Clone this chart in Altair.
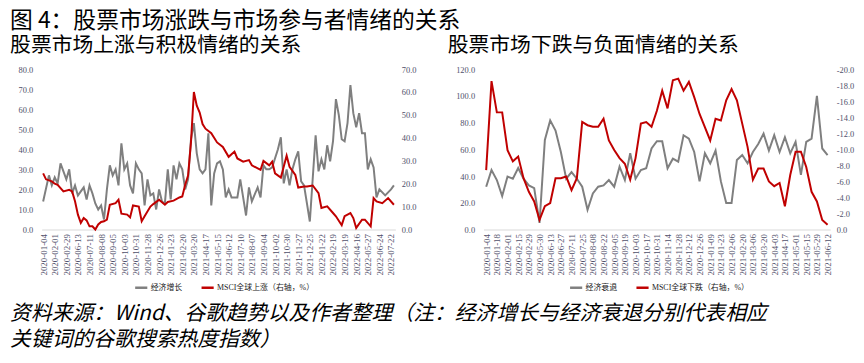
import json
import altair as alt
import pandas as pd

GRAY = "#7F7F7F"
RED = "#C00000"
AXIS_C = "#4F4F6A"
NUM_FONT = "Liberation Serif, Noto Sans CJK SC"
CJK_FONT = "Noto Sans CJK SC"

# ---------------- left panel: rise vs positive sentiment ----------------
up_labels = ["2020-01-04", "2020-02-01", "2020-02-29", "2020-06-13", "2020-07-11",
             "2020-08-08", "2020-09-05", "2020-10-03", "2020-10-31", "2020-11-28",
             "2020-12-26", "2021-01-23", "2021-02-20", "2021-03-20", "2021-04-17",
             "2021-05-15", "2021-06-12", "2021-07-10", "2021-08-07", "2021-09-04",
             "2021-10-02", "2021-10-30", "2021-11-27", "2021-12-25", "2022-01-22",
             "2022-02-19", "2022-03-19", "2022-04-16", "2022-05-27", "2022-06-24",
             "2022-07-22"]
up_label_step = 4
up_n_weeks = 122

growth_week = [0, 2, 3, 4, 5, 6, 8, 9, 10, 11, 12, 14, 15, 16, 17, 18, 19, 20, 21, 22,
               23, 24, 25, 26, 27, 28, 29, 30, 31, 32, 33, 34, 35, 36, 37, 38, 39, 40,
               41, 42, 43, 44, 45, 46, 47, 48, 49, 50, 51, 52, 53, 54, 55, 56, 57, 58,
               59, 60, 61, 62, 63, 64, 65, 66, 67, 68, 69, 70, 71, 72, 74, 75, 76, 77,
               78, 79, 81, 82, 83, 84, 85, 86, 87, 88, 89, 90, 91, 92, 94, 95, 96, 97,
               98, 99, 100, 101, 102, 103, 104, 105, 106, 107, 108, 109, 110, 111, 112,
               113, 114, 115, 116, 118, 120, 121]
growth_val = [14, 27, 22, 26, 23, 33, 25, 30, 18, 22, 17, 21, 15, 22, 18, 13, 10, 12, 5, 20,
              32, 27, 30, 22, 43, 30, 33, 22, 18, 33, 30, 28, 12, 25, 17, 18, 10, 20,
              14, 13, 30, 15, 32, 25, 33, 30, 20, 25, 45, 53, 38, 30, 28, 30, 48, 12,
              28, 33, 34, 30, 16, 20, 16, 16, 16, 25, 16, 7, 21, 14, 21, 16, 32, 30,
              30, 31, 40, 46, 23, 30, 22, 30, 35, 39, 24, 22, 13, 4, 47, 29, 35, 30,
              42, 34, 44, 65, 57, 45, 44, 53, 72, 58, 51, 58, 48, 48, 30,
              35, 31, 16, 20, 17, 20, 22]

msci_up_week = [0, 1, 3, 4, 5, 7, 9, 10, 11, 12, 13, 14, 15, 16, 17, 18, 19, 20, 21, 22,
                23, 25, 26, 27, 29, 30, 31, 33, 34, 35, 37, 38, 40, 42, 43, 45, 47, 48,
                49, 50, 51, 52, 53, 54, 55, 56, 58, 60, 62, 64, 66, 67, 69, 71, 72, 75,
                76, 78, 79, 80, 82, 84, 85, 87, 88, 90, 91, 93, 95, 96, 98, 100, 101,
                103, 104, 106, 107, 108, 110, 111, 113, 114, 115, 117, 119, 121]
msci_up_val = [24.5, 21.9, 21, 20, 19.5, 16.6, 17.3, 16.6, 12.3, 6.5, 2.9, 5, 4, 1.4, 1.4,
               0, 2.2, 3.3, 3.6, 4.3, 10.8, 11.5, 13, 6.9, 6.5, 5.3, 10.5, 10, 3.6, 5.8,
               10, 11.1, 13, 10.8, 12, 12.6, 14, 14.4, 19.5, 23.5, 38, 60, 54, 51, 46,
               44, 42, 38, 36, 31.7, 34, 31, 29.6, 30.3, 28, 26, 29.9, 28, 29.6, 24.5,
               22.7, 32.2, 27.4, 23.8, 18.3, 18.8, 18.8, 19.2, 15.9, 9.4, 10.1, 7.2,
               5.8, 1.9, 5.8, 7.2, 5, 0.7, 4.3, 4.3, 1.4, 13.7, 12.3, 11.5, 13.7, 10.8]

# ---------------- right panel: fall vs negative sentiment ----------------
down_labels = ["2020-01-04", "2020-01-18", "2020-02-01", "2020-02-15", "2020-02-29",
               "2020-05-30", "2020-06-13", "2020-06-27", "2020-07-11", "2020-07-25",
               "2020-08-08", "2020-08-22", "2020-09-05", "2020-09-19", "2020-10-03",
               "2020-10-17", "2020-10-31", "2020-11-14", "2020-11-28", "2020-12-12",
               "2020-12-26", "2021-01-09", "2021-01-23", "2021-02-06", "2021-02-20",
               "2021-03-06", "2021-03-20", "2021-04-03", "2021-04-17", "2021-05-01",
               "2021-05-15", "2021-05-29", "2021-06-12"]
down_label_step = 2
down_n_weeks = 65

recession_week = list(range(65))
recession_val = [32, 44.5, 37, 25, 39.6, 38, 46, 38, 33, 31, 5, 67, 81.6, 74, 58, 38, 43,
                 38, 32, 14.8, 27, 32, 33, 37, 32, 47, 37, 57, 38, 44.5, 45.8, 60.6, 66,
                 66, 45.8, 53, 50.7, 70.5, 68, 58, 36, 57, 49.5, 59, 36, 19.8, 19.8, 52,
                 55.7, 49.5, 58, 64, 71.7, 59, 70.5, 58, 69, 57, 65.6, 40.8, 65.6, 68,
                 100, 60.6, 55.7]

msci_down_week = [0, 1, 2, 3, 4, 5, 6, 7, 8, 9, 10, 11, 12, 13, 14, 15, 16, 17, 18, 19,
                  20, 21, 22, 23, 24, 25, 26, 27, 28, 29, 30, 31, 32, 33, 34, 35, 36, 37,
                  38, 39, 40, 42, 43, 44, 45, 46, 47, 48, 49, 50, 51, 52, 53, 54, 55, 56,
                  57, 58, 59, 60, 61, 62, 63, 64]
msci_down_val = [-7.4, -18.5, -14.6, -14.6, -9.9, -8.5, -9.1, -6.4, -4.7, -3.5, -1.2,
                 -2.9, -3.3, -6.4, -6.4, -6.6, -4.9, -6.4, -13.4, -13, -12.8, -12.8,
                 -13.8, -11.1, -9.9, -8.9, -8.2, -6.2, -8.9, -13.2, -13.4, -12.8, -14.8,
                 -17.3, -15.1, -18.6, -18.8, -17.3, -18.4, -16.5, -14.4, -11.1, -13.8,
                 -13.6, -16.1, -17.5, -16.1, -13.2, -10.3, -6.2, -7.6, -7.6, -6, -5.4,
                 -5.8, -2.9, -6.8, -9.7, -9.7, -7.8, -4.7, -3.5, -1.2, -0.6]

S_GROWTH = "经济增长"
S_UP = "MSCI全球上涨（右轴，%）"
S_REC = "经济衰退"
S_DOWN = "MSCI全球下跌（右轴，%）"

main_title = "图 4：股票市场涨跌与市场参与者情绪的关系"
sub_left = "股票市场上涨与积极情绪的关系"
sub_right = "股票市场下跌与负面情绪的关系"
note_lines = ["资料来源：Wind、谷歌趋势以及作者整理（注：经济增长与经济衰退分别代表相应",
              "关键词的谷歌搜索热度指数）"]


def x_enc(labels, step, n):
    expr = json.dumps(labels, ensure_ascii=False) + "[round(datum.value/%d)]" % step
    return alt.X("w:Q",
                 scale=alt.Scale(domain=[-0.5, n - 0.5], nice=False, zero=False),
                 axis=alt.Axis(values=list(range(0, step * len(labels), step)),
                               labelExpr=expr, labelAngle=270, labelFontSize=9,
                               labelFont=NUM_FONT, labelColor=AXIS_C, labelPadding=4,
                               ticks=False, grid=False, domainColor="#D9D9D9",
                               domainWidth=1, title=None, labelOverlap=False,
                               labelBound=False, labelFlush=False))


def y_axis(values, orient, pad, fix_minus=False):
    expr = "format(datum.value, '.1f')"
    if fix_minus:
        expr = "replace(format(datum.value, '.1f'), '\u2212', '-')"
    return alt.Axis(values=values, orient=orient, labelExpr=expr, labelFontSize=8.5,
                    labelFont=NUM_FONT, labelColor=AXIS_C, labelPadding=pad,
                    ticks=False, grid=False, domain=False, title=None)


def panel(labels, step, n, g_week, g_val, g_name, g_dom, g_vals,
          r_week, r_val, r_name, r_dom, r_vals, title, legend_x, fix_minus=False):
    dg = pd.DataFrame({"w": g_week, "v": g_val, "s": g_name})
    dr = pd.DataFrame({"w": r_week, "v": r_val, "s": r_name})
    cscale = alt.Scale(domain=[g_name, r_name], range=[GRAY, RED])
    leg = alt.Legend(orient="none", legendX=legend_x, legendY=213, direction="horizontal",
                     title=None, symbolType="stroke", symbolStrokeWidth=2.5,
                     symbolSize=150, labelFontSize=8, labelFont=NUM_FONT,
                     labelColor="#222222", columnPadding=14, labelOffset=2, padding=0)
    xe = x_enc(labels, step, n)
    lg = alt.Chart(dg).mark_line(strokeWidth=2).encode(
        x=xe,
        y=alt.Y("v:Q", scale=alt.Scale(domain=g_dom, nice=False, zero=False),
                axis=y_axis(g_vals, "left", 9)),
        color=alt.Color("s:N", scale=cscale, legend=leg),
    )
    lr = alt.Chart(dr).mark_line(strokeWidth=2).encode(
        x=xe,
        y=alt.Y("v:Q", scale=alt.Scale(domain=r_dom, nice=False, zero=False),
                axis=y_axis(r_vals, "right", 6, fix_minus)),
        color=alt.Color("s:N", scale=cscale, legend=leg),
    )
    return alt.layer(lg, lr).resolve_scale(y="independent").properties(
        width=357 if step == 4 else 350, height=162,
        title=alt.TitleParams(title, anchor="start", frame="bounds", fontSize=21,
                              font=CJK_FONT, fontWeight="normal", color="#000000",
                              offset=9, dx=-8),
    )


left = panel(up_labels, up_label_step, up_n_weeks, growth_week, growth_val, S_GROWTH,
             [0, 80], list(range(0, 81, 10)), msci_up_week, msci_up_val, S_UP, [0, 70],
             list(range(0, 71, 10)), sub_left, 93)
right = panel(down_labels, down_label_step, down_n_weeks, recession_week, recession_val,
              S_REC, [0, 120], list(range(0, 121, 20)), msci_down_week, msci_down_val,
              S_DOWN, [0, -20], list(range(0, -21, -2)), sub_right, 86, fix_minus=True)

row = alt.hconcat(left, right, spacing=31).resolve_scale(color="independent").properties(
    title=alt.TitleParams(main_title, anchor="start", fontSize=23, font=CJK_FONT,
                          fontWeight="normal", color="#000000", offset=2))

chart = alt.vconcat(row).properties(
    title=alt.TitleParams(note_lines, orient="bottom", anchor="start", fontSize=21,
                          font=CJK_FONT, fontStyle="italic", fontWeight="normal",
                          color="#000000", lineHeight=27, offset=10),
    padding={"left": 2, "top": 1, "right": 2, "bottom": 0},
).configure_view(stroke=None)

chart.save("out.html", embed_options={"renderer": "svg", "actions": False})
